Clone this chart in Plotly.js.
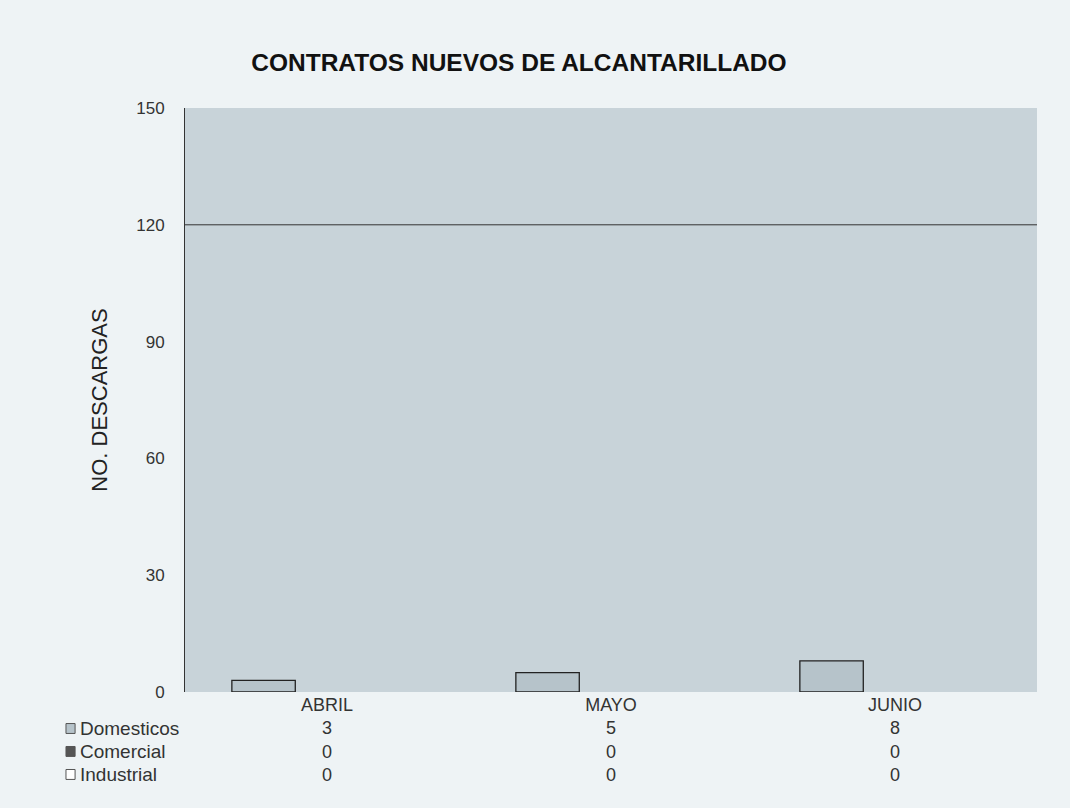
<!DOCTYPE html>
<html><head><meta charset="utf-8">
<script src="https://cdn.plot.ly/plotly-3.0.1.min.js"></script>
<style>html,body{margin:0;padding:0;background:#eef3f5;}#chart{width:1070px;height:808px;}</style>
</head><body><div id="chart"></div>
<script>
var months = ["ABRIL", "MAYO", "JUNIO"];
var seriesNames = ["Domesticos", "Comercial", "Industrial"];
var domesticos = [3, 5, 8];
var comercial = [0, 0, 0];
var industrial = [0, 0, 0];
var yTicks = [0, 30, 60, 90, 120, 150];

var seriesValues = [domesticos, comercial, industrial];
var fills = ["#b6c3ca", "#555555", "#ffffff"];
var outlineW = [1.3, 0, 0];
var FONT = "Liberation Sans, Arial, sans-serif";

var traces = seriesValues.map(function(vals, i){
  return {type:"bar", x:months, y:vals, name:seriesNames[i],
    marker:{color:fills[i], line:{color:"#222", width:outlineW[i]}}, showlegend:false};
});

// data-table tick labels built from arrays
var tickText = months.map(function(m, j){
  return m + "<br>" + seriesValues.map(function(v){return v[j];}).join("<br>");
});

var rowY = [-0.0625, -0.1018, -0.1412];
var annotations = seriesNames.map(function(n, i){
  return {xref:"paper", yref:"paper", x:-0.1255, y:rowY[i], xanchor:"left", yanchor:"middle",
    text:n, showarrow:false, font:{family:FONT, size:19, color:"#333"}};
});
var shapes = seriesNames.map(function(n, i){
  return {type:"rect", xref:"paper", yref:"paper", x0:-0.1397, x1:-0.1290,
    y0:rowY[i]-0.0085, y1:rowY[i]+0.0085, fillcolor:fills[i], line:{color:"#555", width:1}};
});
shapes.push({type:"line", xref:"paper", yref:"y", x0:0, x1:1, y0:120, y1:120, line:{color:"#333", width:1}});

var layout = {
  width:1070, height:808,
  paper_bgcolor:"#eef3f5", plot_bgcolor:"#c8d3d9",
  margin:{l:185, r:33, t:108, b:116},
  title:{text:"<b>CONTRATOS NUEVOS DE ALCANTARILLADO</b>", x:0.485, xanchor:"center", y:0.923, yanchor:"middle",
    font:{family:FONT, size:24.5, color:"#111"}},
  barmode:"group", bargap:0.33, bargroupgap:0,
  xaxis:{type:"category", tickmode:"array", tickvals:months, ticktext:tickText,
    ticks:"", showline:false, showgrid:false, zeroline:false, ticklabelstandoff:0,
    tickfont:{family:FONT, size:18, color:"#333"}},
  yaxis:{range:[0,150], tickvals:yTicks, showgrid:false, zeroline:false,
    showline:true, linecolor:"#333", linewidth:1, ticks:"", ticklabelstandoff:16,
    tickfont:{family:FONT, size:17, color:"#333"},
    title:{text:"NO. DESCARGAS", standoff:22, font:{family:FONT, size:22, color:"#222"}}},
  annotations:annotations, shapes:shapes
};
Plotly.newPlot("chart", traces, layout, {displayModeBar:false, staticPlot:true});
</script></body></html>
